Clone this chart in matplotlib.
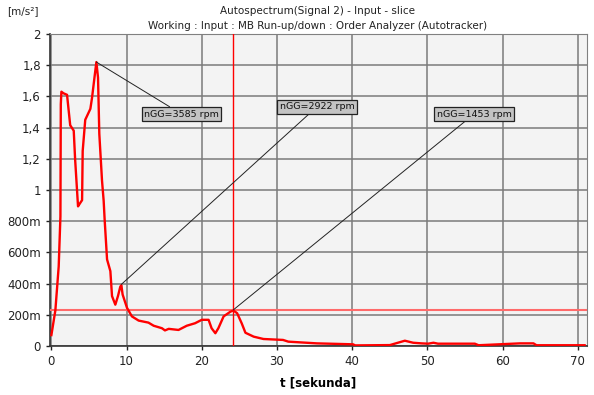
import matplotlib
matplotlib.use("Agg")
import matplotlib.pyplot as plt

# ── Data ────────────────────────────────────────────────────────────────────
t_sec = [0.0, 0.53, 0.97, 1.2, 1.25, 1.33, 1.6, 2.08, 2.5, 2.97, 3.15, 3.54,
         3.6, 4.08, 4.16, 4.5, 5.18, 5.4, 5.75, 5.98, 6.2, 6.37, 6.73, 6.95,
         7.08, 7.4, 7.84, 8.06, 8.5, 8.85, 9.16, 9.3, 9.47, 10.05, 10.7, 11.6,
         12.9, 13.6, 14.7, 15.1, 15.6, 16.9, 18.0, 19.1, 20.0, 20.9, 21.3,
         21.8, 22.2, 22.9, 23.8, 24.2, 24.7, 25.3, 25.8, 26.9, 28.2, 30.8,
         31.5, 35.3, 40.1, 40.4, 45.0, 47.0, 48.1, 49.2, 50.1, 50.8, 51.4,
         56.3, 56.8, 62.3, 64.1, 64.5, 70.9]
accel = [0.07, 0.23, 0.51, 0.83, 1.55, 1.63, 1.62, 1.61, 1.415, 1.38, 1.2,
         0.895, 0.9, 0.935, 1.25, 1.45, 1.52, 1.59, 1.73, 1.82, 1.72, 1.36,
         1.06, 0.93, 0.81, 0.555, 0.48, 0.32, 0.265, 0.32, 0.38, 0.39, 0.33,
         0.245, 0.19, 0.163, 0.15, 0.13, 0.114, 0.1, 0.11, 0.103, 0.13, 0.146,
         0.168, 0.168, 0.114, 0.082, 0.114, 0.19, 0.22, 0.228, 0.21, 0.146,
         0.085, 0.06, 0.045, 0.039, 0.028, 0.017, 0.011, 0.004, 0.006, 0.034,
         0.021, 0.017, 0.015, 0.021, 0.015, 0.015, 0.005, 0.017, 0.017, 0.005,
         0.005]

cursor_t = 24.2
cursor_level = 0.228

# (label, point t, point value, box t, box value)
markers = [
    ("nGG=3585 rpm", 5.98, 1.82, 17.3, 1.487),
    ("nGG=2922 rpm", 9.3, 0.395, 35.3, 1.533),
    ("nGG=1453 rpm", 24.2, 0.232, 56.2, 1.487),
]

x_ticks = [0, 10, 20, 30, 40, 50, 60, 70]
y_ticks = [0, 0.2, 0.4, 0.6, 0.8, 1.0, 1.2, 1.4, 1.6, 1.8, 2.0]
y_tick_labels = ["0", "200m", "400m", "600m", "800m", "1", "1,2", "1,4",
                 "1,6", "1,8", "2"]

# ── Plot ────────────────────────────────────────────────────────────────────
fig = plt.figure(figsize=(5.94, 3.95), dpi=100)
ax = fig.add_axes([0.084, 0.124, 0.904, 0.79])
ax.set_facecolor("#f3f3f3")

ax.grid(True, color="#7a7a7a", linewidth=1.1)
ax.set_axisbelow(True)

ax.axvline(cursor_t, color="#ff0000", linewidth=1.0, zorder=3)
ax.axhline(cursor_level, color="#ff6a6a", linewidth=1.5, zorder=3)
ax.plot(t_sec, accel, color="#ff0000", linewidth=1.7, zorder=4)

for label, px, py, bx, by in markers:
    ax.annotate(label, xy=(px, py), xytext=(bx, by), fontsize=6.8,
                ha="center", va="center", color="#111111",
                bbox=dict(boxstyle="square,pad=0.25", facecolor="#c3c3c3",
                          edgecolor="#222222", linewidth=0.9),
                arrowprops=dict(arrowstyle="-", color="#222222", lw=0.7,
                                shrinkA=0, shrinkB=0),
                zorder=5)

ax.set_xlim(-0.2, 71.2)
ax.set_ylim(0, 2)
ax.set_xticks(x_ticks)
ax.set_yticks(y_ticks)
ax.set_yticklabels(y_tick_labels)
ax.tick_params(labelsize=8.5, colors="#222222", length=3, width=1)

for side in ("top", "right"):
    ax.spines[side].set_color("#808080")
for side in ("left", "bottom"):
    ax.spines[side].set_color("#333333")
    ax.spines[side].set_linewidth(1.2)

ax.set_xlabel("t [sekunda]", fontsize=8.5, fontweight="bold", labelpad=6)

fig.text(0.535, 0.972, "Autospectrum(Signal 2) - Input - slice",
         ha="center", va="center", fontsize=7.5, color="#222222")
fig.text(0.535, 0.934,
         "Working : Input : MB Run-up/down : Order Analyzer (Autotracker)",
         ha="center", va="center", fontsize=7.5, color="#222222")
fig.text(0.012, 0.972, "[m/s²]", ha="left", va="center", fontsize=7.5,
         color="#222222")

fig.savefig("out.png", dpi=100)
